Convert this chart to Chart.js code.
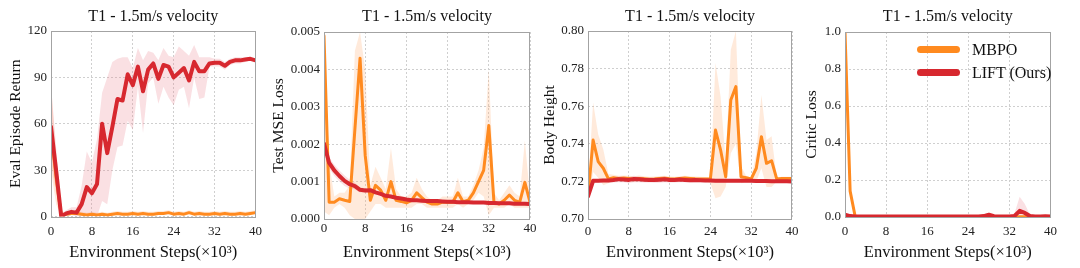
<!DOCTYPE html>
<html>
<head>
<meta charset="utf-8">
<script src="https://cdn.jsdelivr.net/npm/chart.js@4.4.0/dist/chart.umd.min.js"></script>
<style>
  body { margin: 0; background: #fff; width: 1080px; height: 268px; overflow: hidden; position: relative; font-family: "Liberation Serif", "Times New Roman", serif; }
  canvas { position: absolute; top: 0; }
  .legend { position: absolute; left: 917px; top: 38px; font-size: 16px; color: #111; }
  .legend .item { position: relative; height: 23px; line-height: 23px; padding-left: 55px; }
  .legend .bar { position: absolute; left: 0; top: 8px; width: 43px; height: 7px; border-radius: 4px; }
</style>
</head>
<body>
<canvas id="c1" width="269" height="268" style="left:0px"></canvas>
<canvas id="c2" width="274" height="268" style="left:268px"></canvas>
<canvas id="c3" width="266" height="268" style="left:538px"></canvas>
<canvas id="c4" width="264" height="268" style="left:800px"></canvas>
<div class="legend">
  <div class="item"><span class="bar" style="background:#FF8A1F"></span>MBPO</div>
  <div class="item"><span class="bar" style="background:#D7282F"></span>LIFT (Ours)</div>
</div>
<script>
const STEPS = [0, 1, 2, 3, 4, 5, 6, 7, 8, 9, 10, 11, 12, 13, 14, 15, 16, 17, 18, 19, 20,
  21, 22, 23, 24, 25, 26, 27, 28, 29, 30, 31, 32, 33, 34, 35, 36, 37, 38, 39, 40];

// Eval Episode Return
const retLift = [58, 30, 0, 2, 3, 2.5, 8, 19, 15, 21, 60, 41, 58, 76, 75, 92, 85, 97, 81, 95, 99, 89, 98, 97, 90, 93, 96, 88, 100, 94, 94, 99, 99.5, 99.5, 97.5, 100, 101, 101, 101.5, 102, 101];
const retLiftHi = [85, 45, 2, 4, 6, 6, 20, 42, 35, 50, 80, 90, 100, 102, 103, 103, 96, 109, 101, 107, 106, 101, 109, 104, 103, 110, 107, 104, 111, 103, 103, 103, 102, 102, 100, 102, 103, 103, 103, 103, 102];
const retLiftLo = [35, 15, 0, 0, 1, 0, 0, 0, 0, 0, 10, 8, 30, 45, 46, 62, 56, 84, 54, 86, 90, 73, 84, 77, 72, 82, 84, 70, 90, 76, 77, 97, 97, 97, 95, 98, 99, 99, 100, 101, 100];
const retMbpo = [55, 25, 1, 1.5, 2, 2, 1.5, 1, 1.5, 1, 1.5, 1, 1.5, 2, 1.5, 1.5, 2, 1.5, 2, 1.5, 1.5, 2, 2, 2.5, 1.5, 2, 1.5, 2.5, 1.5, 2, 1.5, 1.5, 2, 1.5, 2, 1.5, 1.5, 2, 1.5, 2, 2.5];
const retMbpoHi = [85, 40, 3, 3, 3.5, 3.5, 3, 2.5, 3, 2.5, 3, 2.5, 3, 3.5, 3, 3, 3.5, 3, 3.5, 3, 3, 3.5, 3.5, 4, 3, 3.5, 3, 4, 3, 3.5, 3, 3, 3.5, 3, 3.5, 3, 3, 3.5, 3, 3.5, 4];
const retMbpoLo = [30, 8, 0, 0.5, 1, 1, 0.5, 0, 0.5, 0, 0.5, 0, 0.5, 1, 0.5, 0.5, 1, 0.5, 1, 0.5, 0.5, 1, 1, 1.5, 0.5, 1, 0.5, 1.5, 0.5, 1, 0.5, 0.5, 1, 0.5, 1, 0.5, 0.5, 1, 0.5, 1, 1.5];

// Test MSE Loss
const mseLift = [0.00202, 0.0015, 0.0013, 0.00115, 0.00102, 0.00093, 0.00088, 0.00078, 0.00076, 0.00077, 0.00071, 0.00067, 0.00062, 0.0006, 0.00057, 0.00055, 0.00052, 0.0005, 0.0005, 0.00049, 0.00048, 0.00048, 0.00048, 0.00047, 0.00046, 0.00046, 0.00045, 0.00045, 0.00045, 0.00044, 0.00044, 0.00044, 0.00043, 0.00043, 0.00042, 0.00042, 0.00042, 0.00041, 0.00041, 0.00041, 0.0004];
const mseLiftHi = [0.0021, 0.00165, 0.00145, 0.0013, 0.00116, 0.00105, 0.00097, 0.00085, 0.00082, 0.00082, 0.00075, 0.00071, 0.00066, 0.00064, 0.0006, 0.00058, 0.00055, 0.00053, 0.00053, 0.00052, 0.00051, 0.00051, 0.00051, 0.0005, 0.00049, 0.00049, 0.00048, 0.00048, 0.00048, 0.00047, 0.00047, 0.00047, 0.00046, 0.00046, 0.00045, 0.00045, 0.00045, 0.00044, 0.00044, 0.00044, 0.00043];
const mseLiftLo = [0.0019, 0.00135, 0.00115, 0.001, 0.00088, 0.00081, 0.00079, 0.00071, 0.0007, 0.00072, 0.00067, 0.00063, 0.00058, 0.00056, 0.00054, 0.00052, 0.00049, 0.00047, 0.00047, 0.00046, 0.00045, 0.00045, 0.00045, 0.00044, 0.00043, 0.00043, 0.00042, 0.00042, 0.00042, 0.00041, 0.00041, 0.00041, 0.0004, 0.0004, 0.00039, 0.00039, 0.00039, 0.00038, 0.00038, 0.00038, 0.00037];
const mseMbpo = [0.0049, 0.00045, 0.00045, 0.00054, 0.0005, 0.00047, 0.0024, 0.0043, 0.0017, 0.0005, 0.0009, 0.00077, 0.0005, 0.001, 0.0005, 0.00047, 0.00043, 0.0005, 0.0007, 0.00057, 0.00045, 0.0004, 0.0004, 0.00045, 0.00045, 0.00045, 0.0007, 0.00046, 0.0005, 0.0007, 0.001, 0.0013, 0.0025, 0.00045, 0.0004, 0.0005, 0.00064, 0.0005, 0.00045, 0.00098, 0.00045];
const mseMbpoHi = [0.005, 0.0015, 0.0006, 0.0007, 0.0007, 0.0009, 0.0045, 0.005, 0.004, 0.0009, 0.0014, 0.0011, 0.0008, 0.0019, 0.0008, 0.0006, 0.0006, 0.0007, 0.0011, 0.0008, 0.0006, 0.0005, 0.0005, 0.0006, 0.0006, 0.0006, 0.0011, 0.0006, 0.0006, 0.0009, 0.0013, 0.0019, 0.004, 0.0007, 0.0005, 0.0007, 0.0009, 0.0007, 0.0006, 0.0021, 0.0006];
const mseMbpoLo = [0.0002, 0.0001, 0.0003, 0.0004, 0.0003, 0.0001, 0, 0, 0, 0.0002, 0.0004, 0.0004, 0.0003, 0.0003, 0.0003, 0.0003, 0.0003, 0.0003, 0.0004, 0.0004, 0.0003, 0.0003, 0.0003, 0.0003, 0.0003, 0.0003, 0.0004, 0.0003, 0.0004, 0.0005, 0.0007, 0.0006, 0.0001, 0.0003, 0.0003, 0.0003, 0.0004, 0.0003, 0.0003, 0.0003, 0.0003];

// Body Height
const hLift = [0.712, 0.7203, 0.7204, 0.7205, 0.7205, 0.7207, 0.7212, 0.721, 0.7208, 0.7213, 0.7211, 0.7209, 0.7208, 0.7207, 0.7209, 0.7211, 0.7208, 0.7207, 0.721, 0.7208, 0.7206, 0.7207, 0.7206, 0.7205, 0.7205, 0.7204, 0.7204, 0.7203, 0.7204, 0.7203, 0.7203, 0.7203, 0.7203, 0.7202, 0.7202, 0.7202, 0.7201, 0.7201, 0.7201, 0.7201, 0.72];
const hLiftHi = [0.715, 0.7212, 0.7213, 0.7214, 0.7216, 0.722, 0.7228, 0.7225, 0.7224, 0.723, 0.7226, 0.7224, 0.7222, 0.7221, 0.7225, 0.7227, 0.7222, 0.722, 0.7224, 0.7221, 0.7218, 0.7218, 0.7216, 0.7214, 0.7213, 0.7212, 0.7212, 0.7211, 0.7212, 0.7211, 0.7211, 0.7211, 0.7211, 0.721, 0.721, 0.721, 0.7209, 0.7209, 0.7209, 0.7209, 0.7208];
const hLiftLo = [0.709, 0.7194, 0.7195, 0.7196, 0.7194, 0.7194, 0.7196, 0.7195, 0.7192, 0.7196, 0.7196, 0.7194, 0.7194, 0.7193, 0.7193, 0.7195, 0.7194, 0.7194, 0.7196, 0.7195, 0.7194, 0.7196, 0.7196, 0.7196, 0.7197, 0.7196, 0.7196, 0.7195, 0.7196, 0.7195, 0.7195, 0.7195, 0.7195, 0.7194, 0.7194, 0.7194, 0.7193, 0.7193, 0.7193, 0.7193, 0.7192];
const hMbpo = [0.712, 0.742, 0.7305, 0.727, 0.7213, 0.722, 0.7216, 0.7218, 0.7215, 0.7212, 0.7216, 0.7214, 0.7212, 0.7213, 0.7215, 0.7217, 0.7214, 0.7213, 0.7216, 0.7218, 0.7216, 0.7214, 0.7213, 0.7213, 0.7213, 0.7473, 0.7367, 0.7225, 0.7633, 0.7704, 0.7225, 0.722, 0.7213, 0.727, 0.7438, 0.7296, 0.731, 0.7213, 0.7215, 0.7215, 0.7215];
const hMbpoHi = [0.716, 0.762, 0.745, 0.737, 0.724, 0.7235, 0.723, 0.7232, 0.723, 0.7228, 0.7232, 0.7228, 0.7225, 0.7226, 0.7228, 0.723, 0.7226, 0.7225, 0.7228, 0.723, 0.7228, 0.7226, 0.7225, 0.7224, 0.722, 0.783, 0.765, 0.73, 0.79, 0.8, 0.728, 0.723, 0.722, 0.735, 0.766, 0.742, 0.744, 0.722, 0.7225, 0.7225, 0.7225];
const hMbpoLo = [0.708, 0.725, 0.722, 0.718, 0.719, 0.7205, 0.7202, 0.7204, 0.72, 0.7198, 0.7202, 0.72, 0.7199, 0.72, 0.7202, 0.7204, 0.7202, 0.72, 0.7204, 0.7206, 0.7204, 0.7202, 0.7201, 0.7202, 0.719, 0.711, 0.712, 0.717, 0.735, 0.74, 0.719, 0.72, 0.72, 0.72, 0.727, 0.717, 0.717, 0.72, 0.7205, 0.7205, 0.7205];

// Critic Loss
const cLift = [0.012, 0.005, 0.003, 0.003, 0.003, 0.003, 0.003, 0.003, 0.003, 0.003, 0.003, 0.003, 0.003, 0.003, 0.003, 0.003, 0.003, 0.003, 0.003, 0.003, 0.003, 0.003, 0.003, 0.003, 0.003, 0.003, 0.003, 0.005, 0.012, 0.004, 0.003, 0.003, 0.003, 0.006, 0.033, 0.022, 0.005, 0.003, 0.003, 0.004, 0.003];
const cLiftHi = [0.02, 0.008, 0.006, 0.006, 0.006, 0.006, 0.006, 0.006, 0.006, 0.006, 0.006, 0.006, 0.006, 0.006, 0.006, 0.006, 0.006, 0.006, 0.006, 0.006, 0.006, 0.006, 0.006, 0.006, 0.006, 0.006, 0.006, 0.01, 0.022, 0.007, 0.006, 0.006, 0.006, 0.02, 0.11, 0.07, 0.012, 0.006, 0.006, 0.007, 0.006];
const cLiftLo = [0.004, 0.002, 0.001, 0.001, 0.001, 0.001, 0.001, 0.001, 0.001, 0.001, 0.001, 0.001, 0.001, 0.001, 0.001, 0.001, 0.001, 0.001, 0.001, 0.001, 0.001, 0.001, 0.001, 0.001, 0.001, 0.001, 0.001, 0.002, 0.004, 0.001, 0.001, 0.001, 0.001, 0.002, 0.01, 0.005, 0.001, 0.001, 0.001, 0.001, 0.001];
const cMbpo = [1.0, 0.14, 0.0, 0.001, 0.001, 0.001, 0.001, 0.001, 0.001, 0.001, 0.001, 0.001, 0.001, 0.001, 0.001, 0.001, 0.001, 0.001, 0.001, 0.001, 0.001, 0.001, 0.001, 0.001, 0.001, 0.001, 0.001, 0.001, 0.001, 0.001, 0.001, 0.001, 0.001, 0.001, 0.002, 0.001, 0.001, 0.001, 0.001, 0.001, 0.001];
const cMbpoHi = [1.0, 0.16, 0.004, 0.003, 0.003, 0.003, 0.003, 0.003, 0.003, 0.003, 0.003, 0.003, 0.003, 0.003, 0.003, 0.003, 0.003, 0.003, 0.003, 0.003, 0.003, 0.003, 0.003, 0.003, 0.003, 0.003, 0.003, 0.003, 0.003, 0.003, 0.003, 0.003, 0.003, 0.003, 0.004, 0.003, 0.003, 0.003, 0.003, 0.003, 0.003];
const cMbpoLo = [0.98, 0.12, 0, 0, 0, 0, 0, 0, 0, 0, 0, 0, 0, 0, 0, 0, 0, 0, 0, 0, 0, 0, 0, 0, 0, 0, 0, 0, 0, 0, 0, 0, 0, 0, 0, 0, 0, 0, 0, 0, 0];

const RED = '#D7282F';
const ORANGE = '#FF8A1F';
const RED_FILL = 'rgba(235, 130, 145, 0.25)';
const ORANGE_FILL = 'rgba(255, 180, 125, 0.28)';
const SERIF = '"Liberation Serif", "Times New Roman", serif';
const TITLE = 'T1 - 1.5m/s velocity';
const X_TITLE = 'Environment Steps(×10³)';

const framePlugin = {
  id: 'frame',
  afterDatasetsDraw(chart) {
    const { ctx, chartArea: a } = chart;
    ctx.save();
    ctx.strokeStyle = '#a3a3a3';
    ctx.lineWidth = 1;
    ctx.strokeRect(Math.round(a.left) + 0.5, Math.round(a.top) + 0.5, Math.round(a.right - a.left) - 1, Math.round(a.bottom - a.top));
    ctx.restore();
  }
};

function pts(arr) {
  return arr.map((v, i) => ({ x: STEPS[i], y: v }));
}

function makeDatasets(lift, liftHi, liftLo, mbpo, mbpoHi, mbpoLo) {
  const band = { borderWidth: 0, borderColor: 'transparent', pointRadius: 0 };
  return [
    { label: 'LIFT (Ours)', data: pts(lift), borderColor: RED, borderWidth: 4, fill: false },
    { label: 'MBPO', data: pts(mbpo), borderColor: ORANGE, borderWidth: 3, fill: false },
    { ...band, data: pts(liftHi), backgroundColor: RED_FILL, fill: '+1' },
    { ...band, data: pts(liftLo), fill: false },
    { ...band, data: pts(mbpoHi), backgroundColor: ORANGE_FILL, fill: '+1' },
    { ...band, data: pts(mbpoLo), fill: false }
  ];
}

function renderPanel(p) {
  const canvas = document.getElementById(p.id);
  const left = parseInt(canvas.style.left, 10);
  new Chart(canvas.getContext('2d'), {
    type: 'line',
    data: { datasets: p.datasets },
    options: {
      responsive: false,
      animation: false,
      layout: { padding: { left: 0, right: 12, top: 0, bottom: 0 } },
      elements: {
        point: { radius: 0 },
        line: { tension: 0, borderJoinStyle: 'round', borderCapStyle: 'round' }
      },
      plugins: {
        legend: { display: false },
        tooltip: { enabled: false },
        title: {
          display: true,
          text: TITLE,
          fullSize: false,
          color: '#111',
          font: { family: SERIF, size: 16, weight: 'normal' },
          padding: { top: 7.5, bottom: p.T - 26.7 }
        }
      },
      scales: {
        x: {
          type: 'linear',
          min: 0,
          max: 40,
          afterFit: (s) => { s.height = 268 - p.B; },
          ticks: { stepSize: 8, color: '#222', padding: p.xPad, font: { family: SERIF, size: 13 } },
          grid: { color: '#cfcfcf', drawTicks: false, borderDash: [2, 2] },
          border: { display: false, dash: [2, 2] },
          title: {
            display: true,
            text: X_TITLE,
            color: '#111',
            font: { family: SERIF, size: 16.5 },
            padding: { top: 0, bottom: 5 }
          }
        },
        y: {
          min: p.yMin,
          max: p.yMax,
          afterFit: (s) => { s.width = p.L - left; },
          ticks: {
            stepSize: p.step,
            color: '#222',
            padding: 4,
            font: { family: SERIF, size: 13 },
            callback: (v) => v.toFixed(p.digits)
          },
          grid: { color: '#cfcfcf', drawTicks: false, borderDash: [2, 2] },
          border: { display: false, dash: [2, 2] },
          title: {
            display: true,
            text: p.yTitle,
            color: '#111',
            font: { family: SERIF, size: 15.5 },
            padding: { top: p.yTitlePad, bottom: 0 }
          }
        }
      }
    },
    plugins: [framePlugin]
  });
}

renderPanel({
  id: 'c1', L: 51, T: 31, B: 216.5, xPad: 7, yMin: 0, yMax: 120, step: 30, digits: 0,
  yTitle: 'Eval Episode Return', yTitlePad: 7,
  datasets: makeDatasets(retLift, retLiftHi, retLiftLo, retMbpo, retMbpoHi, retMbpoLo)
});
renderPanel({
  id: 'c2', L: 324, T: 32, B: 219, xPad: 2, yMin: 0, yMax: 0.005, step: 0.001, digits: 3,
  yTitle: 'Test MSE Loss', yTitlePad: 2,
  datasets: makeDatasets(mseLift, mseLiftHi, mseLiftLo, mseMbpo, mseMbpoHi, mseMbpoLo)
});
renderPanel({
  id: 'c3', L: 588, T: 31, B: 219, xPad: 5, yMin: 0.7, yMax: 0.8, step: 0.02, digits: 2,
  yTitle: 'Body Height', yTitlePad: 3,
  datasets: makeDatasets(hLift, hLiftHi, hLiftLo, hMbpo, hMbpoHi, hMbpoLo)
});
renderPanel({
  id: 'c4', L: 845, T: 32, B: 217, xPad: 7, yMin: 0, yMax: 1, step: 0.2, digits: 1,
  yTitle: 'Critic Loss', yTitlePad: 3,
  datasets: makeDatasets(cLift, cLiftHi, cLiftLo, cMbpo, cMbpoHi, cMbpoLo)
});
</script>
</body>
</html>
